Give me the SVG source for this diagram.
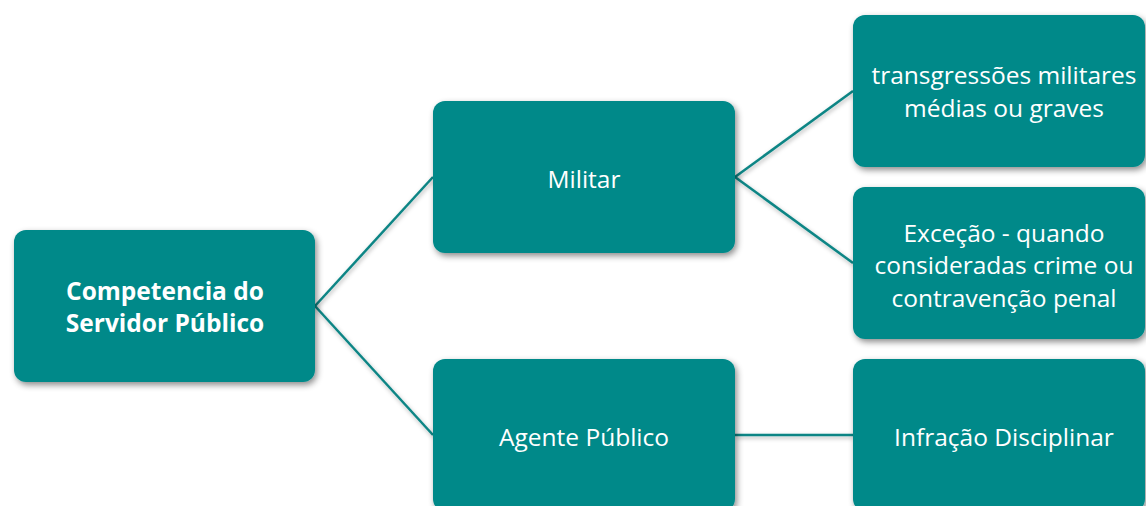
<svg xmlns="http://www.w3.org/2000/svg" width="1146" height="506" viewBox="0 0 1146 506">
<defs>
<filter id="sh" x="-10%" y="-10%" width="125%" height="130%">
<feDropShadow dx="2" dy="3" stdDeviation="3" flood-color="#000" flood-opacity="0.45"/>
</filter>
<filter id="lsh" filterUnits="userSpaceOnUse" x="0" y="0" width="1146" height="506">
<feDropShadow dx="1" dy="2" stdDeviation="2" flood-color="#000" flood-opacity="0.3"/>
</filter>
<style>
.box{fill:#008989;filter:url(#sh)}
.t{fill:#fff;font-family:"Open Sans","Noto Sans",sans-serif;font-size:24.5px;text-anchor:middle}
.b{font-weight:bold;font-size:24.5px}
.c{stroke:#0B8585;stroke-width:2.5;fill:none;filter:url(#lsh)}
</style>
</defs>
<rect width="1146" height="506" fill="#fff"/>
<g id="connectors">
<line class="c" x1="315" y1="306" x2="433" y2="177"/>
<line class="c" x1="315" y1="306" x2="433" y2="435"/>
<line class="c" x1="735" y1="177" x2="853" y2="91"/>
<line class="c" x1="735" y1="177" x2="853" y2="263"/>
<line class="c" x1="735" y1="435" x2="853" y2="435"/>
</g>
<g id="root">
<rect class="box" x="14" y="230" width="301" height="152" rx="12"/>
<text class="t b" x="165" y="300">Competencia do</text>
<text class="t b" x="165" y="332">Servidor Público</text>
</g>
<g id="militar">
<rect class="box" x="433" y="101" width="302" height="152" rx="12"/>
<text class="t" x="584" y="188">Militar</text>
</g>
<g id="transgressoes">
<rect class="box" x="853" y="15" width="292" height="152" rx="12"/>
<text class="t" x="1004" y="84">transgressões militares</text>
<text class="t" x="1004" y="117">médias ou graves</text>
</g>
<g id="excecao">
<rect class="box" x="853" y="187" width="292" height="152" rx="12"/>
<text class="t" x="1004" y="242">Exceção - quando</text>
<text class="t" x="1004" y="274">consideradas crime ou</text>
<text class="t" x="1004" y="307">contravenção penal</text>
</g>
<g id="agente">
<rect class="box" x="433" y="359" width="302" height="152" rx="12"/>
<text class="t" x="584" y="446">Agente Público</text>
</g>
<g id="infracao">
<rect class="box" x="853" y="359" width="292" height="152" rx="12"/>
<text class="t" x="1004" y="446">Infração Disciplinar</text>
</g>
</svg>
